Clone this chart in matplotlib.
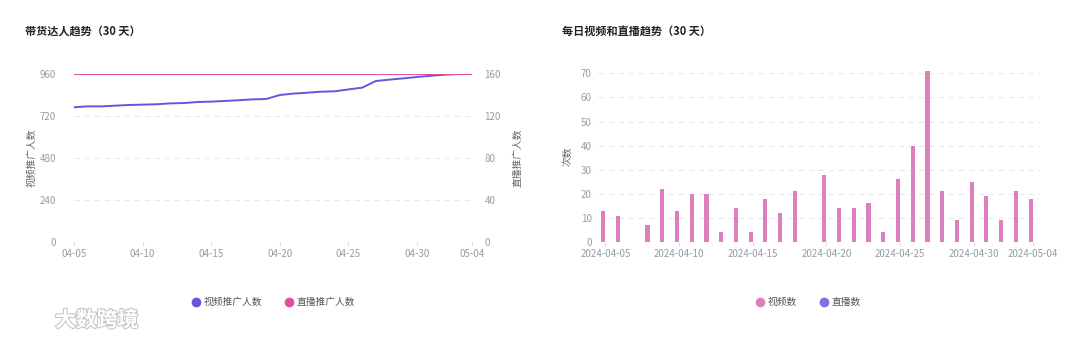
import numpy as np
import matplotlib
matplotlib.use("Agg")
import matplotlib.pyplot as plt
import matplotlib.patheffects as pe
from matplotlib.lines import Line2D

plt.rcParams['font.family'] = ['Noto Sans CJK SC', 'DejaVu Sans']

# ── 数据 ──────────────────────────────────────────────
dates = ["04-05", "04-06", "04-07", "04-08", "04-09", "04-10", "04-11", "04-12",
         "04-13", "04-14", "04-15", "04-16", "04-17", "04-18", "04-19", "04-20",
         "04-21", "04-22", "04-23", "04-24", "04-25", "04-26", "04-27", "04-28",
         "04-29", "04-30", "05-01", "05-02", "05-03", "05-04"]

video_promoters = [770, 775, 775, 779, 783, 785, 787, 792, 794, 800,
                   802, 806, 810, 815, 817, 840, 848, 853, 859, 861,
                   872, 882, 920, 928, 935, 943, 950, 956, 960, 964]
live_promoters = [160] * 30

video_counts = [13, 11, 0, 7, 22, 13, 20, 20, 4, 14,
                4, 18, 12, 21, 0, 28, 14, 14, 16, 4,
                26, 40, 71, 21, 9, 25, 19, 9, 21, 18]
live_counts = [0] * 30

left_ticks = [0, 5, 10, 15, 20, 25, 29]

C_PURPLE = "#6557dc"
C_PINK = "#de4f9f"
C_BAR = "#dc80bd"
C_BAR2 = "#7b72e6"
C_TICK = "#9a9aa8"
C_GRID = "#e9e9ee"

fig = plt.figure(figsize=(10.8, 3.4), dpi=100)

# ── 左图：带货达人趋势 ─────────────────────────────────
ax1 = fig.add_axes([74 / 1080, 98 / 340, 398 / 1080, 168 / 340])
x = np.arange(len(dates))
ax1.plot(x, video_promoters, color=C_PURPLE, linewidth=1.4, zorder=3)
ax1.set_xlim(0, len(dates) - 1)
ax1.set_ylim(0, 960)
ax1.set_yticks([0, 240, 480, 720, 960])
ax1.set_xticks(left_ticks)
ax1.set_xticklabels([dates[i] for i in left_ticks])
ax1.grid(axis="y", color=C_GRID, linestyle=(0, (5, 4)), linewidth=0.8)
ax1.set_ylabel("视频推广人数", fontsize=7, color="#666666", labelpad=2)

ax2 = ax1.twinx()
ax2.plot(x, live_promoters, color=C_PINK, linewidth=1.4, zorder=3)
ax2.set_ylim(0, 160)
ax2.set_yticks([0, 40, 80, 120, 160])
ax2.set_ylabel("直播推广人数", fontsize=7, color="#666666", labelpad=8)

for a in (ax1, ax2):
    for s in a.spines.values():
        s.set_visible(False)
    a.tick_params(axis="x", length=3, color="#dddddd", labelsize=7,
                  labelcolor=C_TICK, pad=2)
ax1.tick_params(axis="y", length=0, labelsize=7, labelcolor=C_TICK, pad=13)
ax2.tick_params(axis="y", length=0, labelsize=7, labelcolor=C_TICK, pad=9)

fig.text(25 / 1080, 1 - 31 / 340, "带货达人趋势（30 天）", fontsize=8,
         fontweight="bold", color="#222222", va="center")

h_left = [Line2D([], [], marker="o", linestyle="none", markersize=6,
                 color=C_PURPLE),
          Line2D([], [], marker="o", linestyle="none", markersize=6,
                 color=C_PINK)]
fig.legend(h_left, ["视频推广人数", "直播推广人数"], loc="center",
           bbox_to_anchor=(273 / 1080, 1 - 302 / 340), ncol=2, frameon=False,
           fontsize=7, labelcolor="#555555", handletextpad=0.3,
           columnspacing=2.2, handlelength=1.0)

# ── 右图：每日视频和直播趋势 ───────────────────────────
ax3 = fig.add_axes([598 / 1080, 98 / 340, 442 / 1080, 171 / 340])
bw = 0.28
ax3.bar(x - bw / 2, video_counts, width=bw, color=C_BAR, zorder=3)
ax3.bar(x + bw / 2, live_counts, width=bw, color=C_BAR2, zorder=3)
ax3.set_xlim(-0.5, len(dates) - 0.5)
ax3.set_ylim(0, 71)
ax3.set_yticks(range(0, 71, 10))
ax3.set_xticks(left_ticks)
ax3.set_xticklabels(["2024-" + dates[i] for i in left_ticks])
ax3.grid(axis="y", color=C_GRID, linestyle=(0, (5, 4)), linewidth=0.8)
ax3.set_ylabel("次数", fontsize=7, color="#666666", labelpad=6)
for s in ax3.spines.values():
    s.set_visible(False)
ax3.tick_params(axis="y", length=0, labelsize=7, labelcolor=C_TICK, pad=4.5)
ax3.tick_params(axis="x", length=3, color="#dddddd", labelsize=7,
                labelcolor=C_TICK, pad=2)

fig.text(562 / 1080, 1 - 31 / 340, "每日视频和直播趋势（30 天）", fontsize=8,
         fontweight="bold", color="#222222", va="center")

h_right = [Line2D([], [], marker="o", linestyle="none", markersize=6,
                  color=C_BAR),
           Line2D([], [], marker="o", linestyle="none", markersize=6,
                  color=C_BAR2)]
fig.legend(h_right, ["视频数", "直播数"], loc="center",
           bbox_to_anchor=(808 / 1080, 1 - 302 / 340), ncol=2, frameon=False,
           fontsize=7, labelcolor="#555555", handletextpad=0.3,
           columnspacing=2.2, handlelength=1.0)

# 水印
fig.text(55 / 1080, 1 - 320 / 340, "大数跨境", fontsize=15, color="white",
         va="center", fontweight="bold",
         path_effects=[pe.withStroke(linewidth=1.6, foreground="#c8c8c8")])

fig.savefig("out.png", dpi=100)
